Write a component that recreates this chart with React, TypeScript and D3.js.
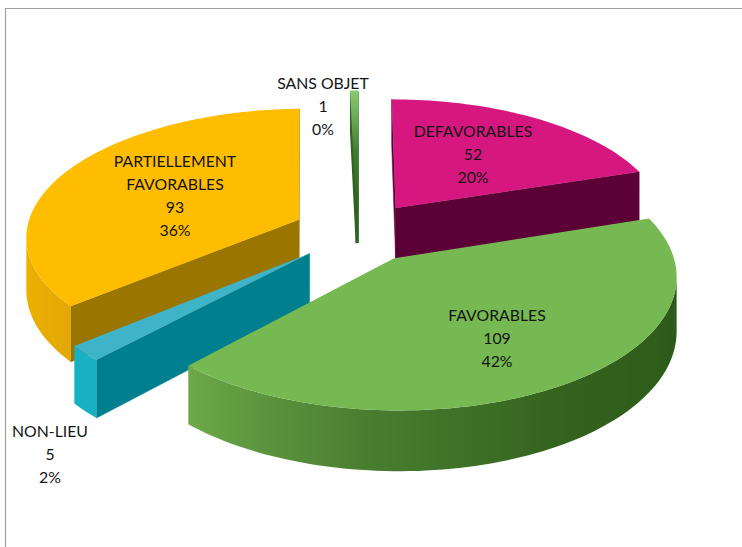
import React from "react";
import * as d3 from "d3";

const categories = ["DEFAVORABLES", "FAVORABLES", "NON-LIEU", "PARTIELLEMENT FAVORABLES", "SANS OBJET"];
const counts = [52, 109, 5, 93, 1];

const topColors = ["#d6177f", "#76b852", "#3fb4c8", "#ffbd00", "url(#sansTop)"];
const cutColors = ["#5c0038", "#3c6b26", "#007f8e", "#9a7600", "#2f6322"];
const wallStops: [number, string][][] = [
  [[0, "#5c0038"], [360, "#5c0038"]],
  [[90, "#2a5716"], [150, "#34631e"], [185, "#487d30"], [223, "#6ea949"]],
  [[223, "#18b0c2"], [231, "#18b0c2"]],
  [[230, "#e3a804"], [270, "#f2b502"]],
  [[0, "#2f6322"], [360, "#2f6322"]],
];
const labelLines = [["DEFAVORABLES"], ["FAVORABLES"], ["NON-LIEU"], ["PARTIELLEMENT", "FAVORABLES"], ["SANS OBJET"]];
const labelAnchors: [number, number][] = [[473, 132], [497, 316], [50, 432], [175, 162], [323, 84]];

// Perspective model of the tilted, exploded disc.
const centre = { x: 358, y: 232 };
const scaleX = 273;
const scaleY = 127;
const thickness = 52;
const nearness = 0.12;
const explodeBy = [0.24, 0.24, 0.24, 0.24, 0.27];
const wallDepth = [1, 1, 1, 1, 0.88];
const outlineBy = [0, 0, 0, 0, 3];

const project = (wx: number, wy: number, wz: number): [number, number] => {
  const w = 1 - nearness * wy;
  return [centre.x + (scaleX * wx) / w, centre.y + (scaleY * wy + thickness * wz) / w];
};

const total = d3.sum(counts);
const arcs = d3.pie<number>().sort(null).startAngle(0).endAngle(2 * Math.PI)(counts);
const pct = d3.format(".0%");
const line = d3.line();

const rimPoint = (a: number, off: [number, number], z: number) =>
  project(off[0] + Math.sin(a), off[1] - Math.cos(a), z);

function Slice({ index }: { index: number }) {
  const arc = arcs[index];
  const mid = (arc.startAngle + arc.endAngle) / 2;
  const off: [number, number] = [explodeBy[index] * Math.sin(mid), -explodeBy[index] * Math.cos(mid)];
  const steps = Math.max(2, Math.round(((arc.endAngle - arc.startAngle) * 180) / Math.PI / 1.5));
  const angle = d3.scaleLinear().domain([0, steps]).range([arc.startAngle, arc.endAngle]);
  const shade = d3
    .scaleLinear<string>()
    .domain(wallStops[index].map((s) => s[0]))
    .range(wallStops[index].map((s) => s[1]))
    .clamp(true);

  const depth = wallDepth[index];
  const apexTop = project(off[0], off[1], 0);
  const apexBottom = project(off[0], off[1], depth);
  const rimTop = d3.range(steps + 1).map((i) => rimPoint(angle(i), off, 0));
  const rimBottom = d3.range(steps + 1).map((i) => rimPoint(angle(i), off, depth));

  const startVisible = rimTop[0][0] < apexTop[0];
  const endVisible = rimTop[steps][0] > apexTop[0];

  // The outer wall shows where the rim runs right to left on screen.
  const facing = d3.range(steps + 1).filter((i) => {
    const before = rimTop[i - 1];
    const after = rimTop[i + 1];
    return (after && after[0] < rimTop[i][0]) || (before && rimTop[i][0] < before[0]);
  });
  const xs = facing.map((i) => rimTop[i][0]);
  const [xMin, xMax] = d3.extent(xs) as [number, number];
  const gradientId = `wall-${index}`;
  const outline = outlineBy[index];

  return (
    <g>
      {facing.length > 1 && (
        <defs>
          <linearGradient id={gradientId} gradientUnits="userSpaceOnUse" x1={xMin} y1={0} x2={xMax} y2={0}>
            {[...facing].reverse().map((i) => (
              <stop
                key={i}
                offset={(rimTop[i][0] - xMin) / (xMax - xMin || 1)}
                stopColor={shade((angle(i) * 180) / Math.PI)}
              />
            ))}
          </linearGradient>
        </defs>
      )}
      {startVisible && (
        <path
          d={line([apexTop, rimTop[0], rimBottom[0], apexBottom]) + "Z"}
          fill={cutColors[index]}
          stroke={cutColors[index]}
          strokeWidth={outline || 0.5}
        />
      )}
      {endVisible && (
        <path
          d={line([apexTop, rimTop[steps], rimBottom[steps], apexBottom]) + "Z"}
          fill={cutColors[index]}
          stroke={cutColors[index]}
          strokeWidth={outline || 0.5}
        />
      )}
      {facing.length > 1 && (
        <path
          d={line([...facing.map((i) => rimTop[i]), ...[...facing].reverse().map((i) => rimBottom[i])]) + "Z"}
          fill={`url(#${gradientId})`}
        />
      )}
      <path
        d={line([apexTop, ...rimTop]) + "Z"}
        fill={topColors[index]}
        stroke={outline ? topColors[index] : "none"}
        strokeWidth={outline}
      />
    </g>
  );
}

function Label({ index }: { index: number }) {
  const [x, y] = labelAnchors[index];
  const rows = [...labelLines[index], String(counts[index]), pct(counts[index] / total)];
  return (
    <text
      x={x}
      y={y}
      textAnchor="middle"
      fontFamily="Lato, 'Open Sans', sans-serif"
      fontSize={15.8}
      fill="#141414"
    >
      {rows.map((row, i) => (
        <tspan key={i} x={x} y={y + 5 + i * 23}>
          {row}
        </tspan>
      ))}
    </text>
  );
}

// Slices are painted from the back of the disc to the front.
const paintOrder = [4, 0, 3, 2, 1];

export default function App() {
  return (
    <svg
      width={742}
      height={547}
      viewBox="0 0 742 547"
      style={{ position: "fixed", left: 0, top: 0, display: "block", background: "#fff" }}
    >
      <defs>
        <linearGradient id="sansTop" gradientUnits="userSpaceOnUse" x1={0} y1={90} x2={0} y2={205}>
          <stop offset="0" stopColor="#8ccb72" />
          <stop offset="0.55" stopColor="#3f7d2e" />
          <stop offset="1" stopColor="#2f6322" />
        </linearGradient>
      </defs>
      <path d="M5.5 547V8.5H742" fill="none" stroke="#a0a0a0" strokeWidth={1.2} />
      {paintOrder.map((i) => (
        <Slice key={i} index={i} />
      ))}
      {categories.map((c, i) => (
        <Label key={c} index={i} />
      ))}
    </svg>
  );
}
